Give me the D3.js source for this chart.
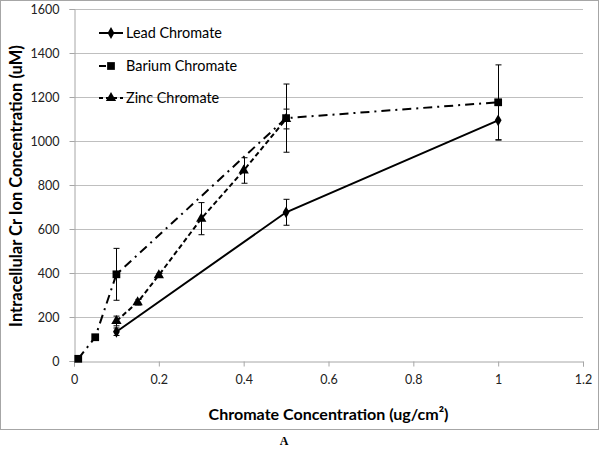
<!DOCTYPE html>
<html><head><meta charset="utf-8">
<script src="https://cdn.jsdelivr.net/npm/d3@7"></script>
<style>body{margin:0;background:#fff}</style>
</head><body>
<svg id="c" width="600" height="450"></svg>
<script>
// ---- data ----
const leadX = [0.1, 0.5, 1];
const leadY = [133, 676, 1094];
const leadErr = [17, 59, 90];
const bariumX = [0.01, 0.05, 0.1, 0.5, 1];
const bariumY = [10, 108, 394, 1104, 1176];
const bariumErr = [4, 10, 118, 155, 170];
const zincX = [0.1, 0.15, 0.2, 0.3, 0.4, 0.5];
const zincY = [182, 267, 390, 647, 866, 1100];
const zincErr = [22, 13, 8, 73, 58, 45];
const xTicks = [0, 0.2, 0.4, 0.6, 0.8, 1, 1.2];
const yTicks = [0, 200, 400, 600, 800, 1000, 1200, 1400, 1600];
const seriesNames = ["Lead Chromate", "Barium Chromate", "Zinc Chromate"];

const FONT = "Lato, 'Open Sans', sans-serif";
const svg = d3.select("#c");
const m = {l:74, r:583, t:9, b:361};
const x = d3.scaleLinear().domain([0, 1.2]).range([m.l, m.r]);
const y = d3.scaleLinear().domain([0, 1600]).range([m.b, m.t]);

// border
svg.append("rect").attr("x",0.5).attr("y",0.5).attr("width",598).attr("height",429)
  .attr("fill","#fff").attr("stroke","#a6a6a6").attr("stroke-width",1);

// gridlines
svg.append("g").selectAll("line").data(yTicks.filter(d=>d>0)).join("line")
  .attr("x1",m.l).attr("x2",m.r).attr("y1",d=>Math.round(y(d))+0.5).attr("y2",d=>Math.round(y(d))+0.5)
  .attr("stroke","#bfbfbf").attr("stroke-width",1);

// axes
const xAxis = d3.axisBottom(x).tickValues(xTicks).tickSize(5).tickPadding(9).tickFormat(d3.format("~g"));
const gx = svg.append("g").attr("transform",`translate(0,${Math.round(y(0))+0.5})`).call(xAxis);
const yAxis = d3.axisLeft(y).tickValues(yTicks).tickSize(5).tickPadding(10).tickFormat(d3.format("d"));
const gy = svg.append("g").attr("transform",`translate(${m.l+0.5},0)`).call(yAxis);
[gx, gy].forEach(g=>{
  g.select(".domain").attr("stroke","#a6a6a6");
  g.selectAll(".tick line").attr("stroke","#a6a6a6");
  g.selectAll(".tick text").attr("fill","#222").style("font-family",FONT).style("font-size","12.5px");
});

// series definitions
const series = [
  {name:seriesNames[0], xs:leadX, ys:leadY, es:leadErr, dash:null, legDash:null, sym:d3.symbolDiamond, size:40},
  {name:seriesNames[1], xs:bariumX, ys:bariumY, es:bariumErr, dash:"9,5,2,5", legDash:"7,5,2,10", sym:d3.symbolSquare, size:60},
  {name:seriesNames[2], xs:zincX, ys:zincY, es:zincErr, dash:"5,3", legDash:"4,3", sym:d3.symbolTriangle, size:46},
];

const line = d3.line().x(d=>x(d[0])).y(d=>y(d[1]));
series.forEach(s=>{
  const pts = s.xs.map((v,i)=>[v, s.ys[i], s.es[i]]);
  const eg = svg.append("g").attr("stroke","#000").attr("stroke-width",1);
  pts.forEach(p=>{
    const cx = Math.round(x(p[0]))+0.5;
    eg.append("line").attr("x1",cx).attr("x2",cx).attr("y1",y(p[1]-p[2])).attr("y2",y(p[1]+p[2]));
    [p[1]-p[2], p[1]+p[2]].forEach(v=>{
      eg.append("line").attr("x1",cx-3).attr("x2",cx+3).attr("y1",y(v)).attr("y2",y(v));
    });
  });
  svg.append("path").datum(pts).attr("d",line).attr("fill","none").attr("stroke","#000")
    .attr("stroke-width",2).attr("stroke-dasharray",s.dash);
  svg.append("g").selectAll("path").data(pts).join("path")
    .attr("transform",d=>`translate(${x(d[0])},${y(d[1])})`)
    .attr("d",d3.symbol().type(s.sym).size(s.size)).attr("fill","#000");
});

function fit(t, target){
  const w = t.node().getComputedTextLength();
  const fs = parseFloat(t.style("font-size"));
  t.style("font-size",(fs*target/w)+"px");
}

// legend
const lg = svg.append("g");
const legY = [33, 66, 98];
series.forEach((s,i)=>{
  const yy = legY[i];
  lg.append("line").attr("x1",99).attr("x2",123).attr("y1",yy).attr("y2",yy)
    .attr("stroke","#000").attr("stroke-width",2).attr("stroke-dasharray",s.legDash);
  lg.append("path").attr("transform",`translate(111,${yy})`)
    .attr("d",d3.symbol().type(s.sym).size(s.size)).attr("fill","#000");
  const t = lg.append("text").attr("x",126).attr("y",yy).attr("dy","0.35em")
    .style("font-family",FONT).style("font-size","14px").attr("fill","#000").text(s.name);
  if(i===0) fit(t, 96);
  else t.style("font-size", lg.select("text").style("font-size"));
});

// titles
const xt = svg.append("text").attr("x",(m.l+m.r)/2).attr("y",414).attr("dy","0.35em").attr("text-anchor","middle")
  .style("font-family",FONT).style("font-weight","bold").style("font-size","14px").attr("fill","#000")
  .text("Chromate Concentration (ug/cm²)");
fit(xt, 240);
const yt = svg.append("text").attr("transform","translate(16,186) rotate(-90)").attr("dy","0.35em").attr("text-anchor","middle")
  .style("font-family",FONT).style("font-weight","bold").style("font-size","14px").attr("fill","#000")
  .text("Intracellular Cr Ion Concentration (uM)");
fit(yt, 282);

svg.append("text").attr("x",284).attr("y",441).attr("dy","0.35em").attr("text-anchor","middle")
  .style("font-family","'Liberation Serif', 'Times New Roman', serif").style("font-weight","bold").style("font-size","12px")
  .attr("fill","#000").text("A");
</script>
</body></html>
